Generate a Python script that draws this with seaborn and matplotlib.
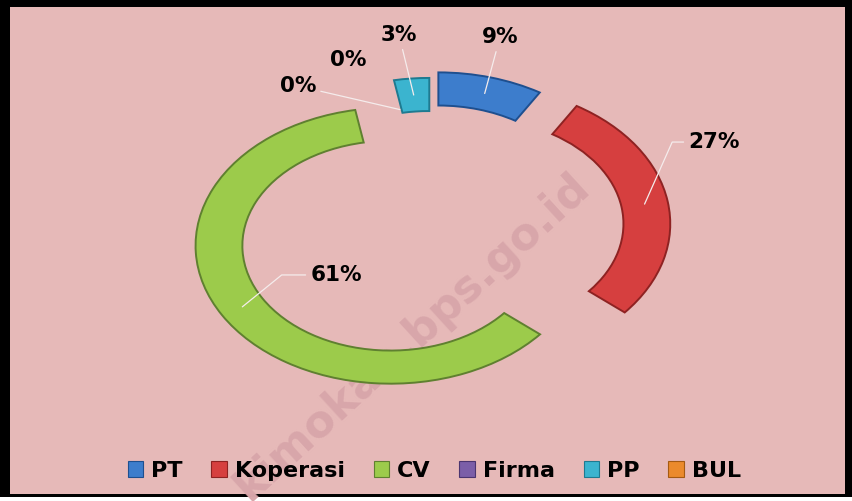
import matplotlib
matplotlib.use("Agg")
import matplotlib.pyplot as plt
import seaborn as sns
import numpy as np
from matplotlib.patches import Rectangle, Patch

# values (percent share per business type)
categories = ['PT', 'Koperasi', 'CV', 'Firma', 'PP', 'BUL']
shares = [8.7, 27.4, 61.0, 0.0, 2.9, 0.0]

# styling
colors = ['#3D7DCC', '#D63F3F', '#9CCB4B', '#7B5EA8', '#3BB4CF', '#EB8A2C']
edge_colors = ['#1E4F8F', '#8E2222', '#5F8030', '#4B3570', '#1E7A90', '#A55A12']
explode = [0.14, 0.23, 0.24, 0.0, 0.095, 0.0]

# label placement (data units of the pie axes) and leader line style
label_pos = [(0.354, 1.391), (1.451, 0.630), (-0.487, -0.333),
             (-0.682, 1.036), (-0.164, 1.406), (-0.426, 1.225)]
leader = ['arc3', 'angle,angleA=0,angleB=66', 'angle,angleA=0,angleB=39',
          'arc3', 'arc3', None]

sns.set_theme(style='white')
plt.rcParams['font.family'] = ['DejaVu Sans']
plt.rcParams['text.color'] = 'black'

W, H = 853, 501
fig = plt.figure(figsize=(W / 100, H / 100), dpi=100)
fig.patch.set_facecolor('white')

# black frame + pink plot area
fig.patches.append(Rectangle((0, 4 / H), 1, 1 - 4 / H, transform=fig.transFigure,
                             facecolor='black', edgecolor='none', zorder=-3))
pink = Rectangle((10 / W, 7 / H), (845 - 10) / W, (494 - 7) / H, transform=fig.transFigure,
                 facecolor='#E6B9B8', edgecolor='none', zorder=-2)
fig.patches.append(pink)

ax = fig.add_axes([0, 0, 1, 1])
ax.patch.set_visible(False)

wedges, _ = ax.pie(shares, colors=colors, explode=explode, startangle=90,
                   counterclock=False, wedgeprops=dict(width=0.24, linewidth=1.4))
for w, ec, s in zip(wedges, edge_colors, shares):
    w.set_edgecolor(ec)
    if s == 0:
        w.set_visible(False)

# the original image is stretched horizontally -> elliptical ring
cx, cy, rx, ry = 431, 229, 195, 138
ax.set_aspect('auto')
ax.set_xlim(-cx / rx, (W - cx) / rx)
ax.set_ylim(-(H - cy) / ry, cy / ry)
ax.axis('off')

total = sum(shares)
for w, s, pos, cs in zip(wedges, shares, label_pos, leader):
    ang = np.deg2rad((w.theta1 + w.theta2) / 2)
    r = w.r - 0.12
    x0 = w.center[0] + r * np.cos(ang)
    y0 = w.center[1] + r * np.sin(ang)
    arrow = None
    if cs:
        arrow = dict(arrowstyle='-', color='#F5ECEC', lw=0.9, connectionstyle=cs,
                     shrinkA=1, shrinkB=0)
    ax.annotate(f"{100 * s / total:.0f}%", xy=(x0, y0), xytext=pos,
                ha='center', va='center', fontsize=15.5, fontweight='bold',
                color='black', arrowprops=arrow, zorder=5)

handles = [Patch(facecolor=c, edgecolor=e, linewidth=0.8) for c, e in zip(colors, edge_colors)]
leg = ax.legend(handles, categories, loc='center', bbox_to_anchor=(0.509, 0.06), ncol=6,
                frameon=False, prop=dict(weight='bold', size=16), handlelength=0.7,
                handleheight=0.7, handletextpad=0.35, columnspacing=1.3, borderaxespad=0)
for t in leg.get_texts():
    t.set_color('black')

# watermark
wm = ax.text(412 / W, 1 - 337 / H, 'kimokab.bps.go.id', transform=ax.transAxes,
             rotation=42.4, rotation_mode='anchor', ha='center', va='center',
             fontsize=32, fontweight='bold', color='#D8A6AA', zorder=0)
wm.set_clip_path(pink)

fig.savefig('out.png', dpi=100)
